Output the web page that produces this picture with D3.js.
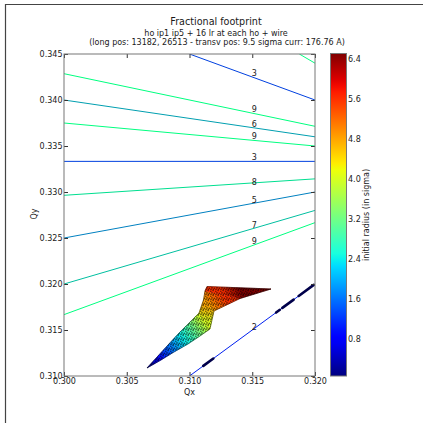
<!DOCTYPE html>
<html>
<head>
<meta charset="utf-8">
<script src="https://cdn.jsdelivr.net/npm/d3@7"></script>
<style>
  html, body { margin: 0; padding: 0; background: #fff; }
  svg { display: block; }
  text { font-family: "DejaVu Sans", sans-serif; fill: #1a1a1a; }
</style>
</head>
<body>
<div id="chart"></div>
<script>
// ---- tick values ----
const qxTicks = [0.300, 0.305, 0.310, 0.315, 0.320];
const qyTicks = [0.310, 0.315, 0.320, 0.325, 0.330, 0.335, 0.340, 0.345];
const cbTicks = [0.8, 1.6, 2.4, 3.2, 4.0, 4.8, 5.6, 6.4];
const cbDomain = [0.06, 6.5];

// ---- resonance lines (order, start and end point in tune space) ----
const resOrder = [2, 3, 3, 5, 6, 7, 8, 9, 9, 9, 9];
const resQx0 = [0.310, 0.310, 0.300, 0.300, 0.300, 0.300, 0.300, 0.300, 0.300, 0.300, 0.31875];
const resQy0 = [0.310, 0.345, 0.33333, 0.325, 0.340, 0.320, 0.32964, 0.34286, 0.3375, 0.31667, 0.345];
const resQx1 = [0.320, 0.320, 0.320, 0.320, 0.320, 0.320, 0.320, 0.320, 0.320, 0.320, 0.320];
const resQy1 = [0.320, 0.340, 0.33333, 0.330, 0.336, 0.328, 0.33143, 0.33714, 0.335, 0.32667, 0.344];

// ---- order labels next to the lines ----
const labelText = ["3", "9", "6", "9", "3", "8", "5", "7", "9", "2"];
const labelQx = [0.31516, 0.31516, 0.31516, 0.31516, 0.31516, 0.31516, 0.31516, 0.31516, 0.31516, 0.31516];
const labelQy = [0.34290, 0.33899, 0.33736, 0.33601, 0.33377, 0.33105, 0.32909, 0.32641, 0.32462, 0.31525];

// ---- footprint: iso-amplitude cross sections (edge A / edge B) ----
const footR = [0.0, 0.8, 1.6, 2.4, 3.2, 4.0, 4.8, 5.6, 6.5];
const edgeAQx = [0.306614, 0.307490, 0.308287, 0.309163, 0.310040, 0.310757, 0.311116, 0.311235, 0.311394];
const edgeAQy = [0.310870, 0.312174, 0.313370, 0.314674, 0.315870, 0.316848, 0.318261, 0.319239, 0.319728];
const edgeBQx = [0.306614, 0.307729, 0.308765, 0.309880, 0.310837, 0.311633, 0.311952, 0.314024, 0.316494];
const edgeBQy = [0.310870, 0.311739, 0.312609, 0.313478, 0.314348, 0.315109, 0.317065, 0.318424, 0.319457];

// ---- small-amplitude particles sitting on the coupling line ----
const diagQx0 = [0.3111, 0.3169, 0.3174, 0.3187];
const diagQx1 = [0.3119, 0.3172, 0.3183, 0.3199];
const diagQy0 = [0.3111, 0.3169, 0.3174, 0.3187];
const diagQy1 = [0.3119, 0.3172, 0.3183, 0.3199];

// ---- jet colormap ----
const jr = d3.scaleLinear().domain([0, 0.35, 0.66, 0.89, 1]).range([0, 0, 1, 1, 0.5]).clamp(true);
const jg = d3.scaleLinear().domain([0, 0.125, 0.375, 0.64, 0.91, 1]).range([0, 0, 1, 1, 0, 0]).clamp(true);
const jb = d3.scaleLinear().domain([0, 0.11, 0.34, 0.65, 1]).range([0.5, 1, 1, 0, 0]).clamp(true);
function jet(t) {
  return d3.rgb(255 * jr(t), 255 * jg(t), 255 * jb(t)).formatHex();
}
const cNorm = d3.scaleLinear().domain(cbDomain).range([0, 1]).clamp(true);
const rColor = r => jet(cNorm(r));

// resonance order colour (winter map)
const orderColor = n => d3.interpolateRgb("#0000ff", "#00ff80")((n - 1) / 8);

const W = 423, H = 423;
const svg = d3.select("#chart").append("svg").attr("width", W).attr("height", H);
const defs = svg.append("defs");

// figure border
svg.append("line").attr("x1", 5.5).attr("y1", 4).attr("x2", 5.5).attr("y2", H).attr("stroke", "#444").attr("stroke-width", 1.2);
svg.append("line").attr("x1", 5).attr("y1", 4.5).attr("x2", W).attr("y2", 4.5).attr("stroke", "#444").attr("stroke-width", 1.2);

// scales
const x = d3.scaleLinear().domain([0.300, 0.320]).range([64, 315]);
const y = d3.scaleLinear().domain([0.310, 0.345]).range([376, 54]);

// titles
svg.append("text").attr("x", 216).attr("y", 25).attr("text-anchor", "middle").style("font-size", "9.6px").text("Fractional footprint");
svg.append("text").attr("x", 216).attr("y", 35.5).attr("text-anchor", "middle").style("font-size", "8px").text("ho ip1 ip5 + 16 lr at each ho + wire");
svg.append("text").attr("x", 217).attr("y", 45).attr("text-anchor", "middle").style("font-size", "8px").text("(long pos: 13182, 26513 - transv pos: 9.5 sigma curr: 176.76 A)");

// clip
defs.append("clipPath").attr("id", "plotClip").append("rect")
  .attr("x", 64).attr("y", 54).attr("width", 251).attr("height", 322);

const plot = svg.append("g").attr("clip-path", "url(#plotClip)");

// resonance lines
plot.selectAll("line.res").data(resOrder).join("line")
  .attr("class", "res")
  .attr("x1", (d, i) => x(resQx0[i])).attr("y1", (d, i) => y(resQy0[i]))
  .attr("x2", (d, i) => x(resQx1[i])).attr("y2", (d, i) => y(resQy1[i]))
  .attr("stroke", d => orderColor(d)).attr("stroke-width", 1);

// particles on the diagonal
plot.selectAll("line.diag").data(diagQx0).join("line")
  .attr("class", "diag")
  .attr("x1", (d, i) => x(d)).attr("y1", (d, i) => y(diagQy0[i]))
  .attr("x2", (d, i) => x(diagQx1[i])).attr("y2", (d, i) => y(diagQy1[i]))
  .attr("stroke", "#00004a").attr("stroke-width", 2.6).attr("stroke-linecap", "round");

// footprint bands
const A = footR.map((r, i) => [x(edgeAQx[i]), y(edgeAQy[i])]);
const B = footR.map((r, i) => [x(edgeBQx[i]), y(edgeBQy[i])]);
const mid = i => [(A[i][0] + B[i][0]) / 2, (A[i][1] + B[i][1]) / 2];

const bands = d3.range(footR.length - 1);
bands.forEach(i => {
  const m0 = mid(i), m1 = mid(i + 1);
  const g = defs.append("linearGradient").attr("id", "band" + i)
    .attr("gradientUnits", "userSpaceOnUse")
    .attr("x1", m0[0]).attr("y1", m0[1]).attr("x2", m1[0]).attr("y2", m1[1]);
  g.append("stop").attr("offset", 0).attr("stop-color", rColor(footR[i]));
  g.append("stop").attr("offset", 1).attr("stop-color", rColor(footR[i + 1]));
});

// speckle texture for the particle cloud
const pat = defs.append("pattern").attr("id", "speck").attr("patternUnits", "userSpaceOnUse")
  .attr("width", 5).attr("height", 5);
[[0.8, 1.2], [3.1, 0.6], [2.0, 2.9], [4.3, 3.3], [1.0, 4.3], [3.4, 4.6]].forEach(p => {
  pat.append("circle").attr("cx", p[0]).attr("cy", p[1]).attr("r", 0.8).attr("fill", "#000").attr("fill-opacity", 0.6);
});

const bandPoly = i => [A[i], B[i], B[i + 1], A[i + 1]];
const footG = plot.append("g");
footG.selectAll("path.band").data(bands).join("path")
  .attr("class", "band")
  .attr("d", i => "M" + bandPoly(i).join("L") + "Z")
  .attr("fill", i => `url(#band${i})`)
  .attr("stroke", i => `url(#band${i})`).attr("stroke-width", 0.6);

const outline = A.concat(B.slice().reverse());
footG.append("path").attr("d", "M" + outline.join("L") + "Z")
  .attr("fill", "url(#speck)")
  .attr("stroke", "#000").attr("stroke-opacity", 0.55).attr("stroke-width", 0.8)
  .attr("stroke-linejoin", "round");

// order labels
plot.selectAll("text.lab").data(labelText).join("text")
  .attr("class", "lab")
  .attr("x", (d, i) => x(labelQx[i])).attr("y", (d, i) => y(labelQy[i]))
  .attr("text-anchor", "middle").attr("dominant-baseline", "central")
  .style("font-size", "8px").text(d => d);

// axes (ticks inside on all four sides)
const fmt = d3.format(".3f");
function styleAxis(g) {
  g.select(".domain").remove();
  g.selectAll(".tick line").attr("stroke", "#333");
  g.selectAll(".tick text").style("font-size", "8px").attr("fill", "#1a1a1a").style("font-family", "'DejaVu Sans', sans-serif");
}
svg.append("g").attr("transform", "translate(0,376)")
  .call(d3.axisBottom(x).tickValues(qxTicks).tickSize(-4).tickPadding(2.5).tickFormat(fmt)).call(styleAxis);
svg.append("g").attr("transform", "translate(0,54)")
  .call(d3.axisTop(x).tickValues(qxTicks).tickSize(-4).tickFormat("")).call(styleAxis);
svg.append("g").attr("transform", "translate(64,0)")
  .call(d3.axisLeft(y).tickValues(qyTicks).tickSize(-4).tickPadding(1.5).tickFormat(fmt)).call(styleAxis);
svg.append("g").attr("transform", "translate(315,0)")
  .call(d3.axisRight(y).tickValues(qyTicks).tickSize(-4).tickFormat("")).call(styleAxis);

// plot frame
svg.append("rect").attr("x", 64).attr("y", 54).attr("width", 251).attr("height", 322)
  .attr("fill", "none").attr("stroke", "#777").attr("stroke-width", 1);

// axis labels
svg.append("text").attr("x", 189.5).attr("y", 394.5).attr("text-anchor", "middle").style("font-size", "8px").text("Qx");
svg.append("text").attr("transform", "translate(37,214) rotate(-90)").attr("text-anchor", "middle").style("font-size", "8px").text("Qy");

// colorbar
const cb = d3.scaleLinear().domain(cbDomain).range([376, 53.5]);
const cbGrad = defs.append("linearGradient").attr("id", "cbGrad")
  .attr("x1", 0).attr("y1", 1).attr("x2", 0).attr("y2", 0);
d3.range(0, 1.0001, 0.02).forEach(t => {
  cbGrad.append("stop").attr("offset", t).attr("stop-color", jet(t));
});
svg.append("rect").attr("x", 330.5).attr("y", 53.5).attr("width", 16).attr("height", 322.5)
  .attr("fill", "url(#cbGrad)").attr("stroke", "#777").attr("stroke-width", 1);
svg.append("g").attr("transform", "translate(346.5,0)")
  .call(d3.axisRight(cb).tickValues(cbTicks).tickSize(0).tickPadding(1.5).tickFormat(d3.format(".1f")))
  .call(styleAxis);
svg.append("text").attr("transform", "translate(369,215) rotate(-90)").attr("text-anchor", "middle")
  .style("font-size", "8px").text("initial radius (in sigma)");
</script>
</body>
</html>
